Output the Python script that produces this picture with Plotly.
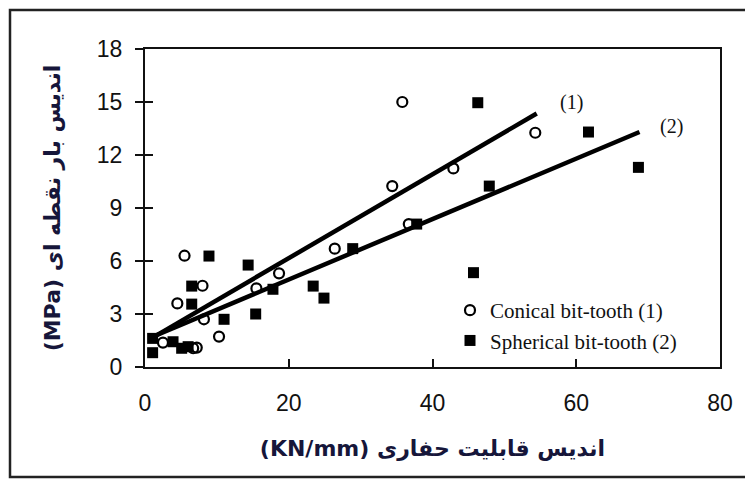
import plotly.graph_objects as go

# Conical bit-tooth (1) data
conical_x = [5.5, 8.0, 4.5, 8.2, 10.3, 2.5, 6.7, 7.2, 15.5, 18.65, 26.4, 35.8, 34.4, 42.9, 36.7, 54.3]
conical_y = [6.3, 4.6, 3.6, 2.7, 1.72, 1.38, 1.06, 1.1, 4.45, 5.3, 6.7, 15.0, 10.24, 11.24, 8.09, 13.26]

# Spherical bit-tooth (2) data
spherical_x = [8.9, 14.35, 6.5, 6.5, 11.0, 15.4, 17.8, 23.4, 24.9, 1.06, 1.06, 3.9, 5.1, 6.0, 46.3, 47.9, 37.8, 28.9, 45.7, 61.7, 68.65]
spherical_y = [6.28, 5.77, 4.58, 3.56, 2.7, 3.0, 4.4, 4.58, 3.9, 1.62, 0.81, 1.43, 1.06, 1.15, 14.96, 10.24, 8.09, 6.7, 5.34, 13.3, 11.3]

# Fitted lines
fit1_x = [1.0, 54.5]
fit1_y = [1.65, 14.35]
fit2_x = [1.0, 68.8]
fit2_y = [1.7, 13.3]

x_ticks = [0, 20, 40, 60, 80]
y_ticks = [0, 3, 6, 9, 12, 15, 18]

x_title = "\u200e(KN/mm)\u200e اندیس قابلیت حفاری"
y_title = "\u200e(MPa)\u200e اندیس بار نقطه ای"
legend_names = ["Conical bit-tooth (1)", "Spherical bit-tooth (2)"]
line_labels = ["(1)", "(2)"]
label_pos_x = [59.3, 73.3]
label_pos_y = [15.0, 13.6]

fig = go.Figure()
fig.add_trace(go.Scatter(x=fit1_x, y=fit1_y, mode="lines", line=dict(color="black", width=4.5),
                         showlegend=False, yaxis="y2", hoverinfo="skip"))
fig.add_trace(go.Scatter(x=fit2_x, y=fit2_y, mode="lines", line=dict(color="black", width=4.5),
                         showlegend=False, yaxis="y2", hoverinfo="skip"))
fig.add_trace(go.Scatter(x=conical_x, y=conical_y, mode="markers", name=legend_names[0],
                         marker=dict(symbol="circle-open", size=10, color="black", line=dict(width=2.2, color="black"))))
fig.add_trace(go.Scatter(x=spherical_x, y=spherical_y, mode="markers", name=legend_names[1],
                         marker=dict(symbol="square", size=11, color="black")))

for t, xx, yy in zip(line_labels, label_pos_x, label_pos_y):
    fig.add_annotation(x=xx, y=yy, text=t, showarrow=False,
                       font=dict(family="Liberation Serif", size=20, color="#111"))

FW, FH = 745, 480
L, R, T, B = 145, 720, 49, 367  # plot area in page px
W, H = R - L, B - T
def px_x(p): return (p - L) / W
def px_y(p): return (B - p) / H

# open outer frame (left, top, bottom edges; right side runs off the page)
fx0, fx1 = px_x(10), px_x(760)
fy0, fy1 = px_y(477), px_y(10)
fig.add_shape(type="path", xref="paper", yref="paper",
              path=f"M {fx1},{fy1} L {fx0},{fy1} L {fx0},{fy0} L {fx1},{fy0}",
              line=dict(color="#222", width=2.5), layer="above")

fig.update_layout(
    width=FW, height=FH,
    margin=dict(l=L, r=FW - R, t=T, b=FH - B, pad=0),
    paper_bgcolor="white", plot_bgcolor="white",
    showlegend=True,
    legend=dict(x=px_x(450), y=px_y(361), xanchor="left", yanchor="bottom",
                bgcolor="rgba(0,0,0,0)", font=dict(family="Liberation Serif", size=21, color="#111"),
                itemwidth=30, tracegroupgap=0),
    xaxis=dict(range=[0, 80], tickvals=x_ticks, ticks="inside", ticklen=8, tickwidth=2, tickcolor="#111",
               showline=True, linecolor="#111", linewidth=2, mirror=True, showgrid=False, zeroline=False,
               tickfont=dict(family="Liberation Sans", size=23, color="#111"), ticklabelstandoff=14,
               title=dict(text=x_title, standoff=26,
                          font=dict(family="DejaVu Sans", size=22, color="#16163a", weight="bold"))),
    yaxis=dict(range=[0, 18], tickvals=y_ticks, ticks="outside", ticklen=8, tickwidth=2, tickcolor="#111",
               showline=True, linecolor="#111", linewidth=2, mirror=True, showgrid=False, zeroline=False,
               tickfont=dict(family="Liberation Sans", size=23, color="#111"), ticklabelstandoff=8,
               title=dict(text=y_title, standoff=30,
                          font=dict(family="DejaVu Sans", size=22, color="#16163a", weight="bold"))),
    yaxis2=dict(range=[0, 18], overlaying="y", side="left", tickvals=y_ticks, ticks="inside", ticklen=8,
                tickwidth=2, tickcolor="#111", showticklabels=False, showgrid=False, zeroline=False,
                showline=False),
)

fig.write_html("out.html", config={"displayModeBar": False},
               post_script="document.body.style.margin='0';document.body.style.overflow='hidden';")
